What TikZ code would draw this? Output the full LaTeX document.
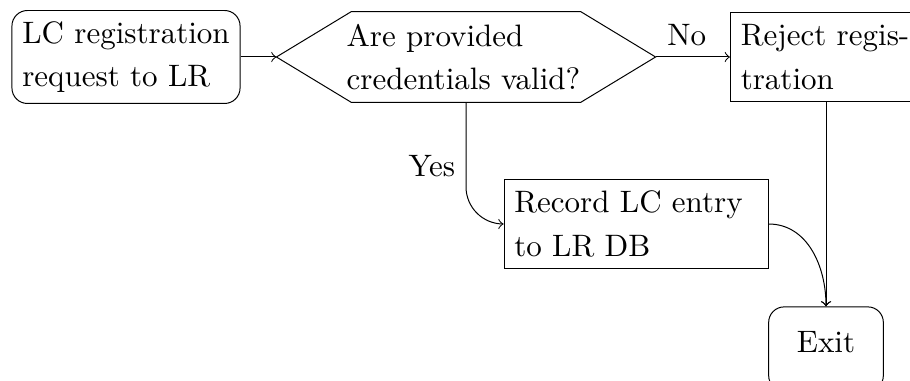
\documentclass[tikz,border=0pt]{standalone}
\usetikzlibrary{calc}
\begin{document}
\begin{tikzpicture}[x=0.3226pt, y=-0.3226pt, line width=0.32pt,
  every node/.style={font=\fontsize{10}{14}\selectfont},
  box/.style={draw, align=left, minimum height=29pt},
  roundbox/.style={box, rounded corners=5pt},
  flow/.style={->},
]
\useasboundingbox (0,0) rectangle (910,381);
\clip (0,0) rectangle (910,381);

% process nodes
\node[roundbox, minimum height=30pt] (req) at (126,57) {LC registration\\request to LR};
\node[box, draw=none, text width=77pt, minimum width=122pt] (chk) at (466,57)
  {Are provided credentials valid?};
\node[box, text width=55pt] (rej) at (826,57) {Reject regis\-tration};
\node[box, text width=78.5pt] (rec) at (636,224) {Record LC entry to LR DB};
\node[draw, rounded corners=5pt, minimum width=37pt, text height=11.5pt,
  text depth=9pt] (ex) at (826,349) {Exit};

% hexagonal outline of the decision
\draw (chk.west) -- ($(chk.north west)+(75,0)$) -- ($(chk.north east)+(-75,0)$)
  -- (chk.east) -- ($(chk.south east)+(-75,0)$) -- ($(chk.south west)+(75,0)$) -- cycle;

% connectors
\draw[flow] (req.east) -- (chk.west);
\draw[flow] (chk.east) -- node[above, pos=0.42] (no) {No} (rej.west);
\draw[flow, rounded corners=12pt] (chk.south) |- node[left, pos=0.26] (yes) {Yes} (rec.west);
\draw[flow] (rec.east) to[out=0, in=90] (ex.north);
\draw[flow] (rej.south) -- (ex.north);
\end{tikzpicture}
\end{document}
